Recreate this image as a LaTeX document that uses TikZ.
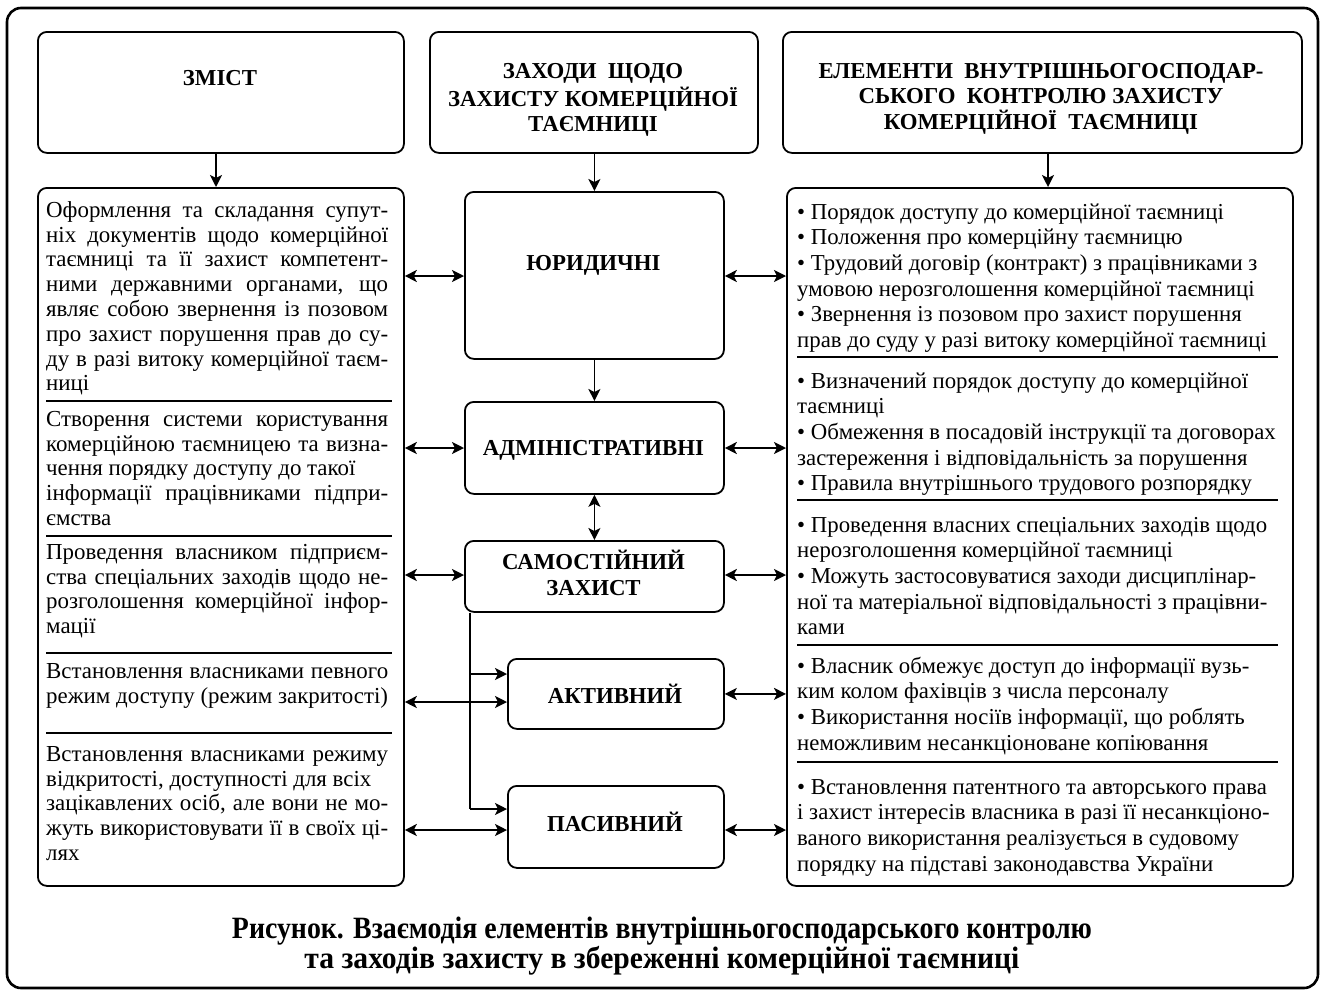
\documentclass[tikz,border=0pt]{standalone}
\usepackage{fontspec}
\setmainfont{Liberation Serif}
\usetikzlibrary{arrows.meta}
\tikzset{
 box/.style={draw, line width=1.8pt, rounded corners=9pt, anchor=north west, inner sep=0pt},
 hdr/.style={font=\bfseries\fontsize{22.8}{25.5}\selectfont, align=center, anchor=north, yshift=17.85pt, inner sep=0pt},
 lbody/.style={font=\fontsize{22.9}{24.8}\selectfont, text width=342pt, align=justify, anchor=north west, yshift=17.36pt, inner sep=0pt},
 rbody/.style={font=\fontsize{22.8}{25.6}\selectfont, align=left, anchor=north west, yshift=17.92pt, inner sep=0pt},
 sepline/.style={line width=1.2pt},
 arr/.style={line width=1.8pt, -{Stealth[length=12pt,width=12pt,inset=3pt]}},
 darr/.style={line width=1.8pt, {Stealth[length=12pt,width=12pt,inset=3pt]}-{Stealth[length=12pt,width=12pt,inset=3pt]}},
 captxt/.style={font=\bfseries\fontsize{31}{30}\selectfont, anchor=base, inner sep=0pt},
}
\begin{document}
\begin{tikzpicture}[x=1pt,y=-1pt]
\useasboundingbox (0,0) rectangle (1324,996);
\draw[line width=2.6pt, rounded corners=14pt] (7,8) rectangle (1318,988);
% top boxes
\node[box, minimum width=366pt, minimum height=121pt] (zm) at (37,31) {};
\node[box, minimum width=328pt, minimum height=121pt] (zh) at (429,31) {};
\node[box, minimum width=519pt, minimum height=121pt] (el) at (782,31) {};
\node[hdr] (zmt) at (220,85) {\strut ЗМІСТ};
\node[hdr] (zht) at (593,78) {\strut ЗАХОДИ\ \ ЩОДО\\ЗАХИСТУ КОМЕРЦІЙНОЇ\\ТАЄМНИЦІ};
\node[hdr] (elt) at (1041,78) {\strut ЕЛЕМЕНТИ\ \ ВНУТРІШНЬОГОСПОДАР-\\СЬКОГО\ \ КОНТРОЛЮ ЗАХИСТУ\\КОМЕРЦІЙНОЇ\ \ ТАЄМНИЦІ};
% big boxes
\node[box, minimum width=366pt, minimum height=698pt] (lb) at (37,187) {};
\node[box, minimum width=506pt, minimum height=698pt] (rb) at (786,187) {};
% middle boxes
\node[box, minimum width=259pt, minimum height=167pt] (jur) at (464,191) {};
\node[box, minimum width=259pt, minimum height=92pt] (adm) at (464,401) {};
\node[box, minimum width=259pt, minimum height=71pt] (sam) at (464,540) {};
\node[box, minimum width=216pt, minimum height=70pt] (akt) at (507,658) {};
\node[box, minimum width=216pt, minimum height=82pt] (pas) at (507,785) {};
\node[hdr] (jurt) at (593.5,270) {\strut ЮРИДИЧНІ};
\node[hdr] (admt) at (593.5,455) {\strut АДМІНІСТРАТИВНІ};
\node[hdr] (samt) at (593.5,568) {\strut САМОСТІЙНИЙ\\ЗАХИСТ};
\node[hdr] (aktt) at (615,702) {\strut АКТИВНИЙ};
\node[hdr] (past) at (615,830) {\strut ПАСИВНИЙ};
% left texts
\node[lbody] (l1) at (46,217) {\strut Оформлення та складання супут-\linebreak ніх документів щодо комерційної\linebreak таємниці та її захист компетент-\linebreak ними державними органами, що\linebreak являє собою звернення із позовом\linebreak про захист порушення прав до су-\linebreak ду в разі витоку комерційної таєм-\linebreak ниці};
\node[lbody] (l2) at (46,426) {\strut Створення системи користування\linebreak комерційною таємницею та визна-\linebreak чення порядку доступу до такої\\інформації працівниками підпри-\linebreak ємства};
\node[lbody] (l3) at (46,559) {\strut Проведення власником підприєм-\linebreak ства спеціальних заходів щодо не-\linebreak розголошення комерційної інфор-\linebreak мації};
\node[lbody] (l4) at (46,678) {\strut Встановлення власниками певного\linebreak режим доступу (режим закритості)};
\node[lbody] (l5) at (46,761) {\strut Встановлення власниками режиму\linebreak відкритості, доступності для всіх\\зацікавлених осіб, але вони не мо-\linebreak жуть використовувати її в своїх ці-\linebreak лях};
\draw[sepline] (46,401) -- (392,401);
\draw[sepline] (46,536) -- (392,536);
\draw[sepline] (46,653) -- (392,653);
\draw[sepline] (46,733) -- (392,733);
% right texts
\node[rbody] (r1) at (797,219) {\strut • Порядок доступу до комерційної таємниці\\• Положення про комерційну таємницю\\• Трудовий договір (контракт) з працівниками з\\умовою нерозголошення комерційної таємниці\\• Звернення із позовом про захист порушення\\прав до суду у разі витоку комерційної таємниці};
\node[rbody] (r2) at (797,388) {\strut • Визначений порядок доступу до комерційної\\таємниці\\• Обмеження в посадовій інструкції та договорах\\застереження і відповідальність за порушення\\• Правила внутрішнього трудового розпорядку};
\node[rbody] (r3) at (797,532) {\strut • Проведення власних спеціальних заходів щодо\\нерозголошення комерційної таємниці\\• Можуть застосовуватися заходи дисциплінар-\\ної та матеріальної відповідальності з працівни-\\ками};
\node[rbody] (r4) at (797,673) {\strut • Власник обмежує доступ до інформації вузь-\\ким колом фахівців з числа персоналу\\• Використання носіїв інформації, що роблять\\неможливим несанкціоноване копіювання};
\node[rbody] (r5) at (797,794) {\strut • Встановлення патентного та авторського права\\і захист інтересів власника в разі її несанкціоно-\\ваного використання реалізується в судовому\\порядку на підставі законодавства України};
\draw[sepline] (797,357) -- (1278,357);
\draw[sepline] (797,500) -- (1278,500);
\draw[sepline] (797,645) -- (1278,645);
\draw[sepline] (797,762) -- (1278,762);
% vertical arrows
\coordinate (xl) at (216,0);
\coordinate (xr) at (1048,0);
\draw[arr] (zm.south -| xl) -- (lb.north -| xl);
\draw[arr] (zh.south -| jur.north) -- (jur.north);
\draw[arr] (el.south -| xr) -- (rb.north -| xr);
\draw[arr] (jur.south) -- (adm.north);
\draw[darr] (adm.south) -- (sam.north);
% branch
\coordinate (b1) at (470,674);
\coordinate (b2) at (470,809);
\draw[line width=1.8pt] (sam.south -| b1) -- (b2);
\draw[arr] (b1) -- (akt.west |- b1);
\draw[arr] (b2) -- (pas.west |- b2);
% horizontal arrows
\coordinate (y1) at (0,276);
\coordinate (y2) at (0,448);
\coordinate (y3) at (0,575);
\coordinate (y4) at (0,702);
\coordinate (y5) at (0,830);
\draw[darr] (lb.east |- y1) -- (jur.west |- y1);
\draw[darr] (jur.east |- y1) -- (rb.west |- y1);
\draw[darr] (lb.east |- y2) -- (adm.west |- y2);
\draw[darr] (adm.east |- y2) -- (rb.west |- y2);
\draw[darr] (lb.east |- y3) -- (sam.west |- y3);
\draw[darr] (sam.east |- y3) -- (rb.west |- y3);
\draw[darr] (lb.east |- y4) -- (akt.west |- y4);
\draw[darr] (akt.east) -- (rb.west |- akt.east);
\draw[darr] (lb.east |- y5) -- (pas.west |- y5);
\draw[darr] (pas.east |- y5) -- (rb.west |- y5);
% caption
\node[captxt] (cap1) at (662,938) {\resizebox{860pt}{\height}{Рисунок. Взаємодія елементів внутрішньогосподарського контролю}};
\node[captxt] (cap2) at (662,968) {\resizebox{715pt}{\height}{та заходів захисту в збереженні комерційної таємниці}};
\end{tikzpicture}
\end{document}
